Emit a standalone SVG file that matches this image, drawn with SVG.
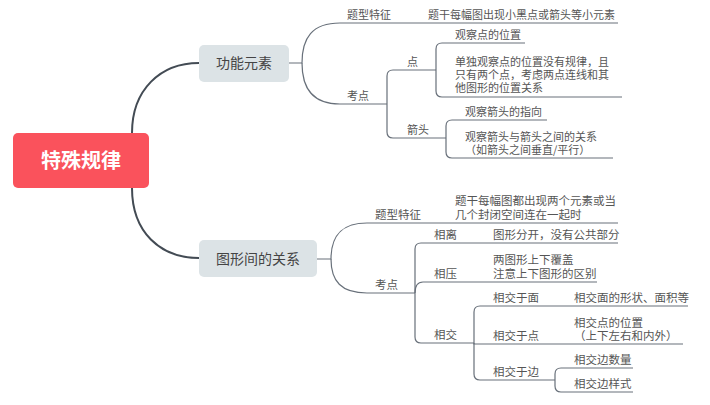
<svg xmlns="http://www.w3.org/2000/svg" width="710" height="405" viewBox="0 0 710 405">
<style>
.t{font-family:"Noto Sans CJK SC","Noto Sans",sans-serif;font-size:11.5px;fill:#555;}
.s{font-size:11px;}
.m{font-family:"Noto Sans CJK SC","Noto Sans",sans-serif;font-size:14px;fill:#444;}
.r{font-family:"Noto Sans CJK SC","Noto Sans",sans-serif;font-size:20px;font-weight:bold;fill:#fff;}
.main{fill:none;stroke:#434b54;stroke-width:2;}
.ln{fill:none;stroke:#68707a;stroke-width:1.2;}
</style>
<rect width="710" height="405" fill="#fff"/>
<g id="connectors">
<path class="main" d="M132,133 C132,90 160,63 199,63"/>
<path class="main" d="M132,188 C132,232 160,258 199,258"/>
<path class="ln" d="M289,63 H302 C302,38 312,23 340,23 H618"/>
<path class="ln" d="M302,63 C302,88 312,104 340,104 H387"/>
<path class="ln" d="M387,104 V76 Q387,70 393,70 H436"/>
<path class="ln" d="M387,104 V132 Q387,138 393,138 H446"/>
<path class="ln" d="M436,70 V49 Q436,43 442,43 H525"/>
<path class="ln" d="M436,70 V91 Q436,97 442,97 H622"/>
<path class="ln" d="M446,138 V126 Q446,120 452,120 H547"/>
<path class="ln" d="M446,138 V152 Q446,158 452,158 H613"/>
<path class="ln" d="M317,259 H331 C331,236 341,223 367,223 H618"/>
<path class="ln" d="M331,259 C331,281 341,293 367,293 H415"/>
<path class="ln" d="M415,293 V249 Q415,243 421,243 H618"/>
<path class="ln" d="M415,293 Q415,282 423,282 H597"/>
<path class="ln" d="M415,293 V337 Q415,343 421,343 H474"/>
<path class="ln" d="M474,343 V312 Q474,306 480,306 H688"/>
<path class="ln" d="M474,343 V344 H683"/>
<path class="ln" d="M474,343 V374 Q474,380 480,380 H555"/>
<path class="ln" d="M555,380 V374 Q555,368 561,368 H633"/>
<path class="ln" d="M555,380 V386 Q555,392 561,392 H633"/>
</g>
<g id="root">
<rect x="13" y="133" width="136" height="55" rx="5" fill="#fa525c"/>
<text class="r" x="81" y="168" text-anchor="middle">特殊规律</text>
</g>
<g id="n1">
<rect x="199" y="45" width="90" height="37" rx="5" fill="#dce3e6"/>
<text class="m" x="244" y="68" text-anchor="middle">功能元素</text>
</g>
<g id="n1a"><text class="t s" x="347" y="19">题型特征</text></g>
<g id="n1a1"><text class="t s" x="428" y="19">题干每幅图出现小黑点或箭头等小元素</text></g>
<g id="n1b"><text class="t s" x="347" y="100">考点</text></g>
<g id="n1b1"><text class="t s" x="407" y="66">点</text></g>
<g id="n1b1a"><text class="t s" x="455" y="39">观察点的位置</text></g>
<g id="n1b1b"><text class="t s" x="455" y="66">单独观察点的位置没有规律，且<tspan x="455" y="79">只有两个点，考虑两点连线和其</tspan><tspan x="455" y="92">他图形的位置关系</tspan></text></g>
<g id="n1b2"><text class="t s" x="407" y="134">箭头</text></g>
<g id="n1b2a"><text class="t s" x="465" y="116">观察箭头的指向</text></g>
<g id="n1b2b"><text class="t s" x="465" y="141">观察箭头与箭头之间的关系<tspan x="465" y="154">（如箭头之间垂直/平行）</tspan></text></g>
<g id="n2">
<rect x="199" y="240" width="118" height="37" rx="5" fill="#dce3e6"/>
<text class="m" x="258" y="264" text-anchor="middle">图形间的关系</text>
</g>
<g id="n2a"><text class="t" x="375" y="219">题型特征</text></g>
<g id="n2a1"><text class="t" x="455" y="205">题干每幅图都出现两个元素或当<tspan x="455" y="219">几个封闭空间连在一起时</tspan></text></g>
<g id="n2b"><text class="t" x="375" y="289">考点</text></g>
<g id="n2b1"><text class="t" x="434" y="239">相离</text></g>
<g id="n2b1a"><text class="t" x="493" y="239">图形分开，没有公共部分</text></g>
<g id="n2b2"><text class="t" x="434" y="278">相压</text></g>
<g id="n2b2a"><text class="t" x="493" y="264">两图形上下覆盖<tspan x="493" y="278">注意上下图形的区别</tspan></text></g>
<g id="n2b3"><text class="t" x="434" y="339">相交</text></g>
<g id="n2b3a"><text class="t" x="493" y="302">相交于面</text></g>
<g id="n2b3a1"><text class="t" x="574" y="302">相交面的形状、面积等</text></g>
<g id="n2b3b"><text class="t" x="493" y="340">相交于点</text></g>
<g id="n2b3b1"><text class="t" x="574" y="327">相交点的位置<tspan x="574" y="340">（上下左右和内外）</tspan></text></g>
<g id="n2b3c"><text class="t" x="493" y="376">相交于边</text></g>
<g id="n2b3c1"><text class="t" x="574" y="364">相交边数量</text></g>
<g id="n2b3c2"><text class="t" x="574" y="388">相交边样式</text></g>
</svg>
